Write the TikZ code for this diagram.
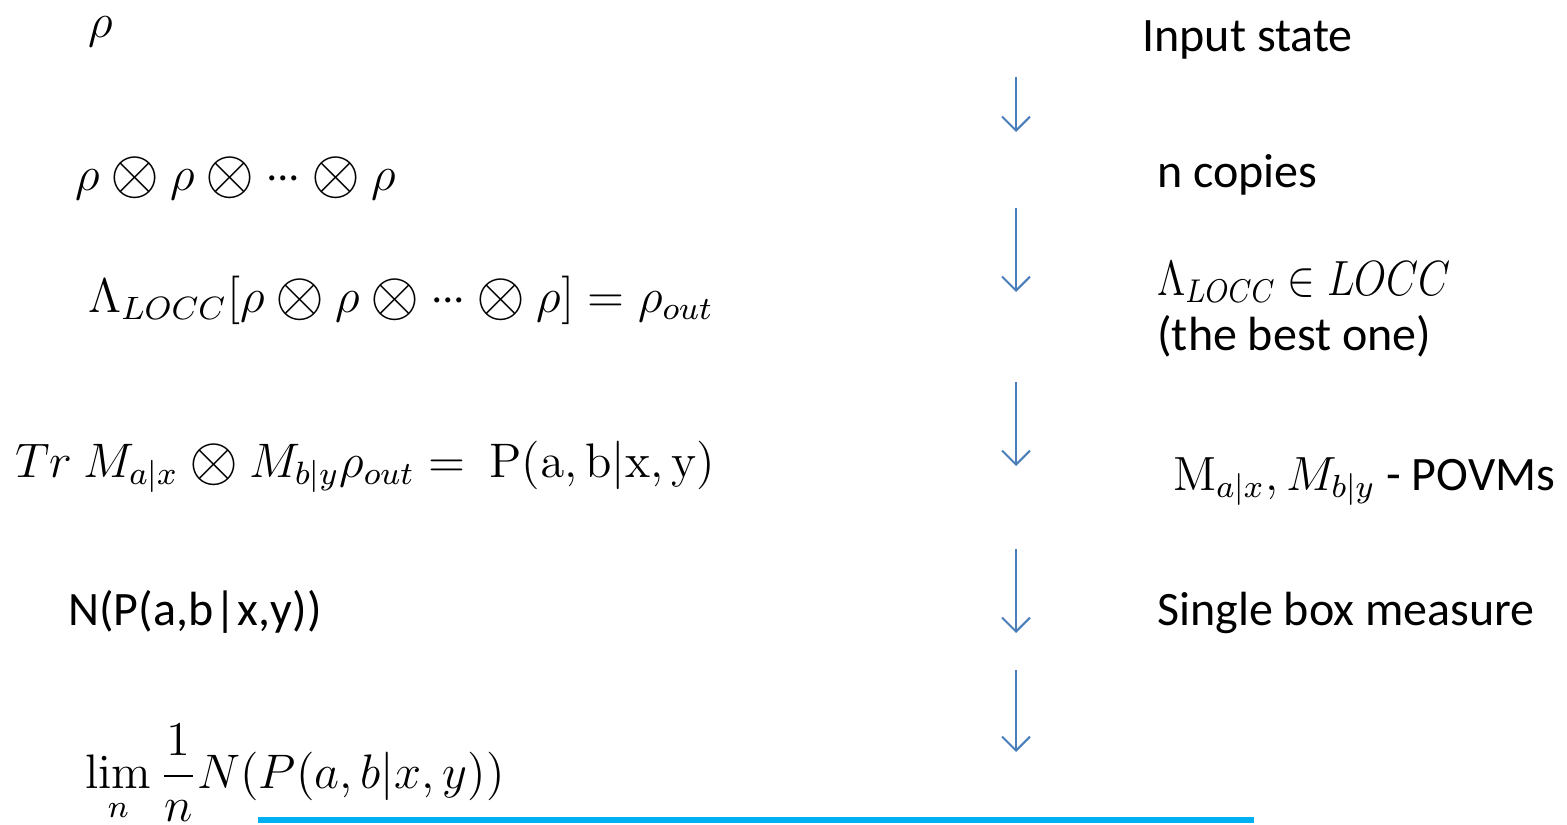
\documentclass[tikz,border=0pt]{standalone}
\usepackage{amsmath}
\usepackage[no-math]{fontspec}
\setmainfont{Carlito}
\usetikzlibrary{arrows.meta}
\definecolor{arrowblue}{HTML}{4A7EBB}
\definecolor{lineblue}{HTML}{00B0F0}
\newcommand{\tsz}[1]{\scalebox{2}{\fontsize{12}{14}\selectfont #1}}
\newcommand{\msz}[1]{\scalebox{2.02}{\fontsize{12}{14}\selectfont #1}}
\newcommand{\botimes}{\mathbin{\vcenter{\hbox{\scalebox{1.3}{$\otimes$}}}}}
\newcommand{\tdots}{\mathord{\hbox{$\cdotp$\kern-0.6pt$\cdotp$\kern-0.6pt$\cdotp$}}}
\tikzset{
  lbl/.style={inner sep=0pt, anchor=base west},
  flow/.style={draw=arrowblue, line width=1pt, -{Straight Barb[length=7pt,width=14pt,line width=1pt]}}
}
\begin{document}
\begin{tikzpicture}[x=0.5pt,y=-0.5pt]
\useasboundingbox (0,0) rectangle (1567,824);
% left column
\node[lbl] (l1) at (88,38) {\msz{$\rho$}};
\node[lbl] (l2) at (75,190) {\msz{$\rho\botimes\rho\botimes\tdots\botimes\rho$}};
\node[lbl] (l3) at (88,312) {\msz{$\Lambda_{LOCC}[\rho\botimes\rho\botimes\tdots\botimes\rho]=\rho_{out}$}};
\node[lbl] (l4) at (15,477) {\msz{$Tr\ M_{a|x}\botimes M_{b|y}\rho_{out}=\ \mathrm{P}(\mathrm{a},\mathrm{b}|\mathrm{x},\mathrm{y})$}};
\node[lbl] (l5) at (68,625) {\tsz{N(P(a,b\kern0.3pt|\kern0.3pt x,y))}};
\node[lbl] (l6) at (85,788) {\msz{$\displaystyle\lim_{n}\frac{1}{n}N(P(a,b|x,y))$}};
% right column
\node[lbl] (r1) at (1142,52) {\tsz{Input state}};
\node[lbl] (r2) at (1157,187) {\tsz{n copies}};
\node[lbl] (r3) at (1157,295) {\scalebox{1.73}[2.06]{\fontsize{12}{14}\selectfont $\Lambda_{LOCC}\in LOCC$}};
\node[lbl] (r4) at (1157,350) {\tsz{(the best one)}};
\node[lbl] (r5) at (1173,490) {\tsz{$\mathrm{M}_{a|x},M_{b|y}$ - POVMs}};
\node[lbl] (r6) at (1157,625) {\tsz{Single box measure}};
% arrows
\coordinate (a1s) at (1016,77);  \coordinate (a1e) at (1016,132);
\coordinate (a2s) at (1016,208); \coordinate (a2e) at (1016,292);
\coordinate (a3s) at (1016,382); \coordinate (a3e) at (1016,466);
\coordinate (a4s) at (1016,549); \coordinate (a4e) at (1016,633);
\coordinate (a5s) at (1016,670); \coordinate (a5e) at (1016,752);
\draw[flow] (a1s) -- (a1e);
\draw[flow] (a2s) -- (a2e);
\draw[flow] (a3s) -- (a3e);
\draw[flow] (a4s) -- (a4e);
\draw[flow] (a5s) -- (a5e);
% bottom line
\coordinate (b1) at (258,820); \coordinate (b2) at (1254,820);
\draw[lineblue, line width=3pt] (b1) -- (b2);
\end{tikzpicture}
\end{document}
